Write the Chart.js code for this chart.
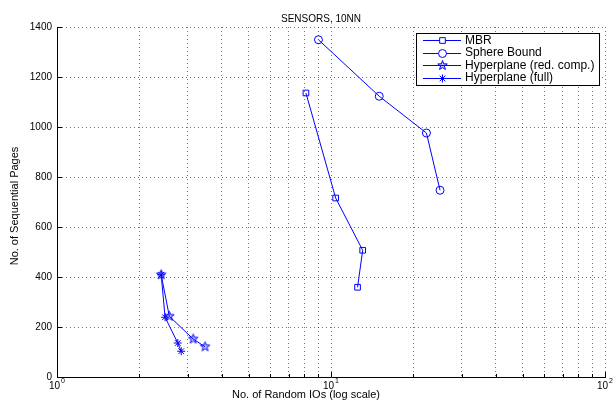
<!DOCTYPE html>
<html>
<head>
<meta charset="utf-8">
<script src="https://cdn.jsdelivr.net/npm/chart.js@4/dist/chart.umd.min.js"></script>
<style>
  html, body { margin: 0; padding: 0; background: #fff; }
  canvas { display: block; }
</style>
</head>
<body>
<canvas id="c" width="613" height="407"></canvas>
<script>
// Labels
const chartTitle = 'SENSORS, 10NN';
const xAxisTitle = 'No. of Random IOs (log scale)';
const yAxisTitle = 'No. of Sequential Pages';
const seriesNames = ['MBR', 'Sphere Bound', 'Hyperplane (red. comp.)', 'Hyperplane (full)'];

// Series values: random IOs (x) and sequential pages (y)
const mbrIOs = [8.1, 10.4, 13.05, 12.5];
const mbrPages = [1136, 716, 507, 359];
const sphereIOs = [9.0, 15.0, 22.3, 25.0];
const spherePages = [1349, 1123, 976, 747];
const hypRedIOs = [2.40, 2.57, 3.14, 3.47];
const hypRedPages = [409, 243, 152, 121];
const hypFullIOs = [2.40, 2.48, 2.76, 2.84];
const hypFullPages = [409, 239, 136, 103];

// Tick positions
const xTickValues = [1, 2, 3, 4, 5, 6, 7, 8, 9, 10, 20, 30, 40, 50, 60, 70, 80, 90, 100];
const xDecades = [1, 10, 100];
const yTickValues = [0, 200, 400, 600, 800, 1000, 1200, 1400];

const BLUE = '#0000ff';
const FONT = '"Liberation Sans", Arial, Helvetica, sans-serif';
const GRID = 'rgba(0,0,0,0.55)';

function pairs(xs, ys) { return xs.map((x, i) => ({ x: x, y: ys[i] })); }

// Hollow five-pointed star marker
function makePentagram(r) {
  const s = Math.ceil(r * 2 + 3);
  const cv = document.createElement('canvas');
  cv.width = cv.height = s;
  const g = cv.getContext('2d');
  const c = s / 2;
  g.beginPath();
  for (let i = 0; i < 10; i++) {
    const ang = -Math.PI / 2 + i * Math.PI / 5;
    const rr = (i % 2) ? r * 0.42 : r;
    const px = c + rr * Math.cos(ang), py = c + rr * Math.sin(ang);
    if (i === 0) g.moveTo(px, py); else g.lineTo(px, py);
  }
  g.closePath();
  g.fillStyle = 'rgba(0,0,255,0.25)';
  g.fill();
  g.strokeStyle = BLUE;
  g.lineWidth = 1;
  g.stroke();
  return cv;
}
const pentagram = makePentagram(5);

const markerStyles = ['rect', 'circle', pentagram, 'star'];
const markerRadii = [4, 4, 5, 4];

function lineSet(idx, xs, ys) {
  return {
    label: seriesNames[idx],
    data: pairs(xs, ys),
    showLine: true,
    borderColor: BLUE,
    borderWidth: 1,
    backgroundColor: 'rgba(0,0,0,0)',
    pointStyle: markerStyles[idx],
    pointRadius: markerRadii[idx],
    pointBorderColor: BLUE,
    pointBackgroundColor: 'rgba(0,0,0,0)',
    pointBorderWidth: 1,
    fill: false,
    tension: 0
  };
}

// Title, axis titles, superscript decade labels, inward ticks and legend
const decorPlugin = {
  id: 'decor',
  afterDraw(chart) {
    const ctx = chart.ctx;
    const a = chart.chartArea;
    const xs = chart.scales.x, ys = chart.scales.y;
    ctx.save();
    ctx.fillStyle = '#000';
    ctx.strokeStyle = '#000';
    ctx.lineWidth = 1;

    // inward tick marks
    ctx.beginPath();
    yTickValues.forEach(v => {
      const y = Math.round(ys.getPixelForValue(v)) + 0.5;
      ctx.moveTo(a.left, y); ctx.lineTo(a.left + 5, y);
    });
    xTickValues.forEach(v => {
      const x = Math.round(xs.getPixelForValue(v)) + 0.5;
      const len = xDecades.includes(v) ? 5 : 3;
      ctx.moveTo(x, a.bottom); ctx.lineTo(x, a.bottom - len);
    });
    ctx.stroke();

    // decade labels with superscript exponent
    xDecades.forEach(v => {
      const exp = String(Math.round(Math.log10(v)));
      ctx.font = '10px ' + FONT;
      const wb = ctx.measureText('10').width;
      ctx.font = '7px ' + FONT;
      const we = ctx.measureText(exp).width;
      const x0 = xs.getPixelForValue(v) - (wb + we + 1) / 2;
      ctx.textAlign = 'left';
      ctx.textBaseline = 'alphabetic';
      ctx.font = '10px ' + FONT;
      ctx.fillText('10', x0, 389);
      ctx.font = '7px ' + FONT;
      ctx.fillText(exp, x0 + wb + 1, 383);
    });

    // chart title
    ctx.font = '10px ' + FONT;
    ctx.textAlign = 'center';
    ctx.fillText(chartTitle, 321, 22);

    // x axis title
    ctx.font = '11px ' + FONT;
    ctx.fillText(xAxisTitle, 306, 398);

    // y axis title
    ctx.save();
    ctx.translate(18, 206);
    ctx.rotate(-Math.PI / 2);
    ctx.textAlign = 'center';
    ctx.fillText(yAxisTitle, 0, 0);
    ctx.restore();

    // legend box
    const bx = 416, by = 33, bw = 183, bh = 52;
    ctx.fillStyle = '#fff';
    ctx.fillRect(bx, by, bw, bh);
    ctx.strokeStyle = '#000';
    ctx.strokeRect(bx + 0.5, by + 0.5, bw, bh);
    const rowY = [40, 52.5, 65, 77.5];
    chart.data.datasets.forEach((ds, i) => {
      const y = rowY[i];
      ctx.strokeStyle = BLUE;
      ctx.lineWidth = 1;
      ctx.beginPath();
      ctx.moveTo(423, Math.round(y) + 0.5);
      ctx.lineTo(461, Math.round(y) + 0.5);
      ctx.stroke();
      const mx = 442.5, my = Math.round(y) + 0.5;
      const st = markerStyles[i], r = markerRadii[i];
      ctx.beginPath();
      if (st === 'rect') {
        const h = r * Math.SQRT1_2;
        ctx.fillStyle = '#fff';
        ctx.fillRect(mx - h, my - h, 2 * h, 2 * h);
        ctx.rect(mx - h, my - h, 2 * h, 2 * h);
        ctx.stroke();
      } else if (st === 'circle') {
        ctx.arc(mx, my, r, 0, Math.PI * 2);
        ctx.fillStyle = '#fff';
        ctx.fill();
        ctx.stroke();
      } else if (st === 'star') {
        const d = r * Math.SQRT1_2;
        ctx.moveTo(mx - r, my); ctx.lineTo(mx + r, my);
        ctx.moveTo(mx, my - r); ctx.lineTo(mx, my + r);
        ctx.moveTo(mx - d, my - d); ctx.lineTo(mx + d, my + d);
        ctx.moveTo(mx - d, my + d); ctx.lineTo(mx + d, my - d);
        ctx.stroke();
      } else {
        ctx.drawImage(st, mx - st.width / 2, my - st.height / 2);
      }
      ctx.fillStyle = '#000';
      ctx.font = '12px ' + FONT;
      ctx.textAlign = 'left';
      ctx.textBaseline = 'middle';
      ctx.fillText(ds.label, 465, y + 0.5);
      ctx.textBaseline = 'alphabetic';
    });
    ctx.restore();
  }
};

new Chart(document.getElementById('c'), {
  type: 'scatter',
  data: {
    datasets: [
      lineSet(0, mbrIOs, mbrPages),
      lineSet(1, sphereIOs, spherePages),
      lineSet(2, hypRedIOs, hypRedPages),
      lineSet(3, hypFullIOs, hypFullPages)
    ]
  },
  options: {
    responsive: false,
    devicePixelRatio: 1,
    animation: false,
    events: [],
    layout: { padding: { left: 0, right: 8, top: 27, bottom: 0 } },
    plugins: {
      legend: { display: false },
      title: { display: false },
      tooltip: { enabled: false }
    },
    scales: {
      x: {
        type: 'logarithmic',
        min: 1,
        max: 100,
        afterBuildTicks: s => { s.ticks = xTickValues.map(v => ({ value: v })); },
        afterFit: s => { s.height = 30; },
        ticks: { display: false },
        grid: { color: GRID, lineWidth: 1, drawTicks: false },
        border: { display: true, color: '#000', width: 1, dash: [1, 3] }
      },
      y: {
        type: 'linear',
        min: 0,
        max: 1400,
        afterBuildTicks: s => { s.ticks = yTickValues.map(v => ({ value: v })); },
        afterFit: s => { s.width = 57; },
        ticks: {
          color: '#000',
          padding: 5,
          font: { family: FONT, size: 10 },
          callback: v => String(v)
        },
        grid: { color: GRID, lineWidth: 1, drawTicks: false },
        border: { display: true, color: '#000', width: 1, dash: [1, 3] }
      }
    }
  },
  plugins: [decorPlugin]
});
</script>
</body>
</html>
